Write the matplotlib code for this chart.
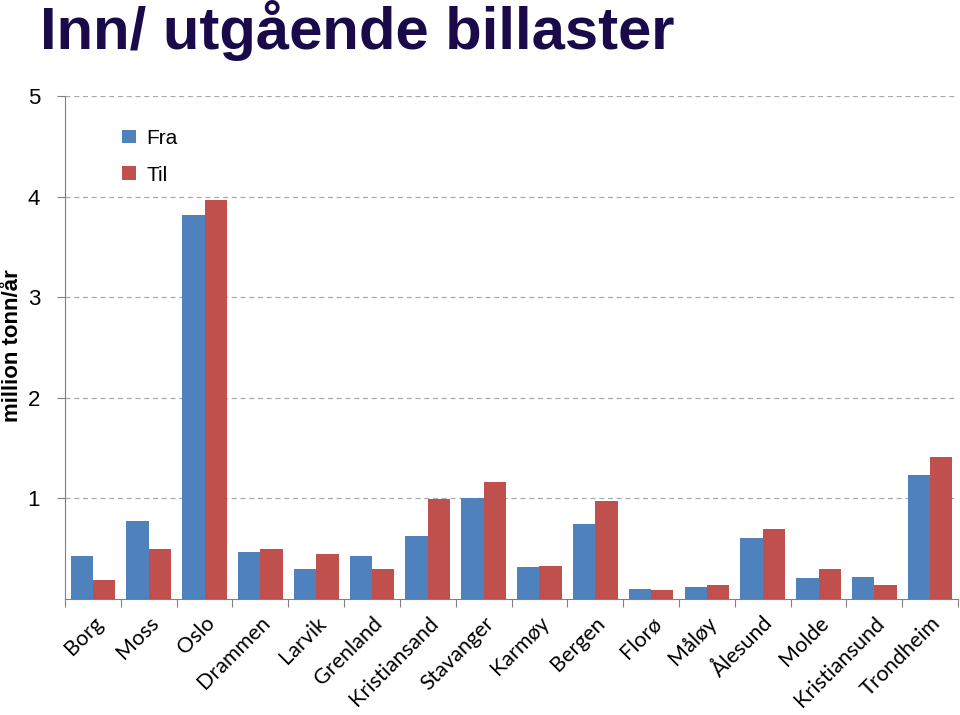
import numpy as np
import matplotlib.pyplot as plt

havner = ['Borg', 'Moss', 'Oslo', 'Drammen', 'Larvik', 'Grenland', 'Kristiansand',
          'Stavanger', 'Karmøy', 'Bergen', 'Florø', 'Måløy', 'Ålesund', 'Molde',
          'Kristiansund', 'Trondheim']
fra = [0.43, 0.78, 3.82, 0.47, 0.30, 0.43, 0.63, 1.00, 0.32, 0.75, 0.10, 0.12, 0.61, 0.21, 0.22, 1.23]
til = [0.19, 0.50, 3.97, 0.50, 0.45, 0.30, 0.99, 1.16, 0.33, 0.97, 0.09, 0.14, 0.70, 0.30, 0.14, 1.41]
yticks = [1, 2, 3, 4, 5]

blue = '#4F81BD'
red = '#C0504D'

fig = plt.figure(figsize=(9.6, 7.15), dpi=100)
ax = fig.add_axes([0.0677, 0.1622, 0.9303, 0.7035])

x = np.arange(len(havner))
w = 0.4
ax.bar(x - w / 2, fra, w, color=blue, label='Fra', zorder=3)
ax.bar(x + w / 2, til, w, color=red, label='Til', zorder=3)

ax.set_xlim(-0.5, len(havner) - 0.5)
ax.set_ylim(0, 5)
ax.set_yticks(yticks)
ax.set_yticklabels([str(v) for v in yticks], fontsize=16, family='Liberation Sans')
ax.yaxis.grid(True, linestyle=(0, (4, 3)), color='#AAAAAA', linewidth=0.9, zorder=0)

# category ticks between groups, labels at centres
ax.set_xticks(np.arange(-0.5, len(havner)), minor=False)
ax.set_xticklabels([])
ax.set_xticks(x, minor=True)
ax.set_xticklabels(havner, minor=True, rotation=45, ha='right', rotation_mode='anchor',
                   fontsize=15.5, family='Lato')
ax.tick_params(axis='x', which='minor', length=0, pad=10)
ax.tick_params(axis='x', which='major', length=6, color='#808080', direction='out')
ax.tick_params(axis='y', length=6, color='#808080', direction='out', pad=12)

for s in ['top', 'right']:
    ax.spines[s].set_visible(False)
for s in ['left', 'bottom']:
    ax.spines[s].set_color('#808080')

fig.text(0.0135, 0.517, 'million tonn/år', rotation=90, fontsize=16, fontweight='bold',
         family='Liberation Sans', ha='center', va='center')

ax.legend(loc='upper left', bbox_to_anchor=(0.043, 0.972), frameon=False,
          prop={'family': 'Liberation Sans', 'size': 15}, handlelength=0.65,
          handleheight=0.65, handletextpad=0.5, labelspacing=0.85)

fig.text(0.042, 0.958, 'Inn/ utgående billaster', fontsize=43, fontweight='bold',
         family='Liberation Sans', color='#1A0A4A', va='center', ha='left')

fig.savefig('out.png', dpi=100)
